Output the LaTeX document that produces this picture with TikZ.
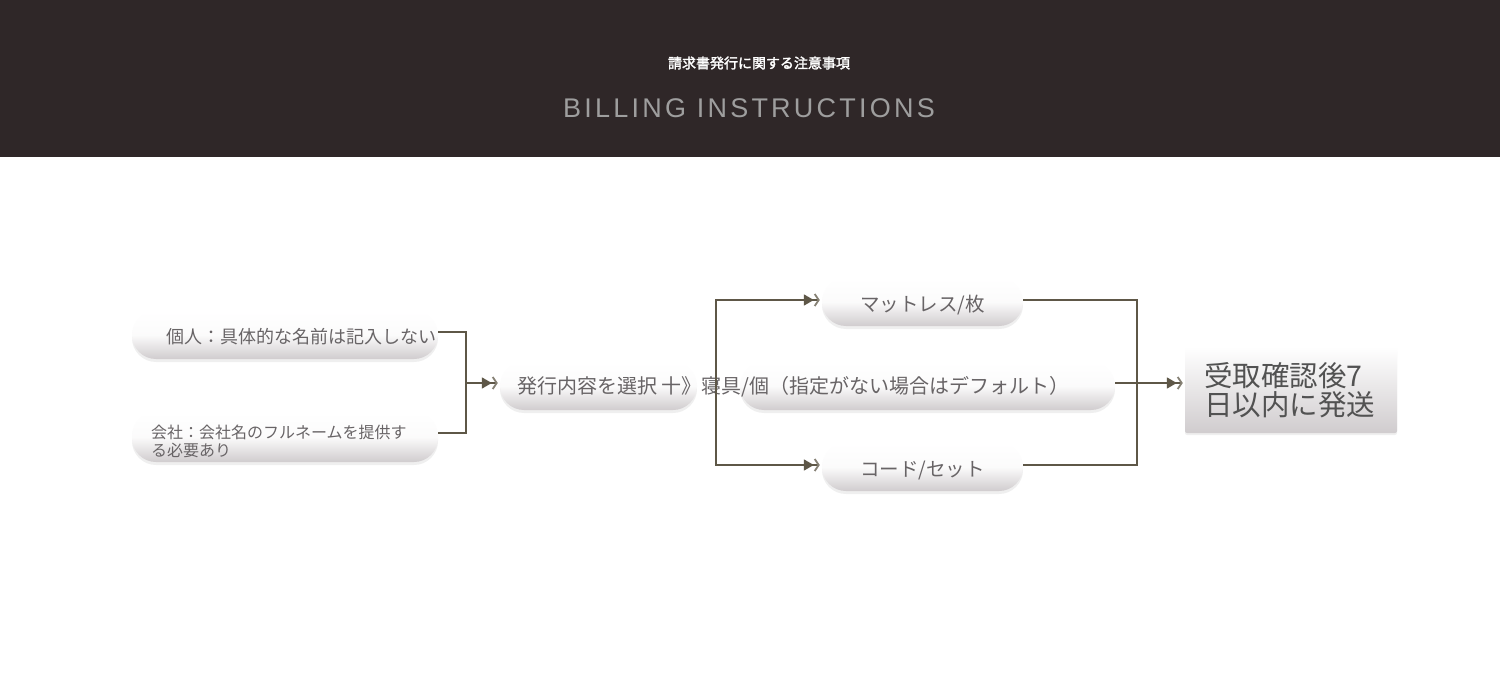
\documentclass[tikz,border=0pt]{standalone}
\usepackage{fontspec}
\usetikzlibrary{arrows.meta,shadows,calc}
\newfontfamily\cjk{Noto Sans CJK JP}
\newfontfamily\cjkb[FakeBold=2]{Noto Sans CJK JP}
\newfontfamily\latinhead[LetterSpace=12]{Liberation Sans}
\definecolor{band}{HTML}{2F2728}
\definecolor{lnk}{HTML}{5E5747}
\definecolor{txt}{HTML}{686466}
\definecolor{pillb}{HTML}{D0CCCE}
\definecolor{headgray}{HTML}{9E9E9E}
\tikzset{
  pill/.style={rectangle, rounded corners=24pt, minimum height=48pt,
    top color=white, bottom color=pillb, middle color=white!92!pillb,
    draw=none, inner ysep=0pt, text height=19pt, text depth=0pt,
    drop shadow={opacity=0.12, shadow xshift=0pt, shadow yshift=-3pt},
    text=txt, font=\cjk\fontsize{19.5}{22}\selectfont},
  box/.style={rectangle, rounded corners=2pt, top color=white, bottom color=pillb,
    draw=none, drop shadow={opacity=0.12, shadow xshift=0pt, shadow yshift=-2pt},
    text=black!68, font=\cjk\fontsize{28.5}{29}\selectfont},
  lbl/.style={text=txt, inner sep=0pt},
  lk/.style={draw=lnk, line width=1.6pt},
  arr/.style={lk, -{Triangle[length=10pt,width=11pt] Straight Barb[length=4pt,width=12pt,line width=1.8pt,color=lnk!75]}, shorten >=2pt},
}
\begin{document}
\begin{tikzpicture}[x=1pt,y=-1pt]
\useasboundingbox (0,0) rectangle (1500,682);
\fill[white] (0,0) rectangle (1500,682);
\fill[band] (0,0) rectangle (1500,157);
\node[text=white, font=\cjkb\fontsize{14}{16}\selectfont] (title) at (759,63) {請求書発行に関する注意事項};
\node[text=headgray, font=\latinhead\fontsize{27}{30}\selectfont] (sub) at (749,108) {BILLING INSTRUCTIONS};

% left column
\node[pill, minimum width=306pt, text width=302pt, inner xsep=2pt, align=right,
      font=\cjk\fontsize{18}{20}\selectfont, text height=17pt] (A) at (285,335) {個人：具体的な名前は記入しない};
\node[pill, minimum width=306pt, minimum height=50pt] (B) at (285,437) {};
\node[lbl, anchor=base west, align=left, font=\cjk\fontsize{16}{18}\selectfont] (Bt) at (151,456) {会社：会社名のフルネームを提供す\\る必要あり};

% middle
\node[pill, minimum width=197pt] (C) at (598.5,386) {};
\node[pill, minimum width=375pt] (D) at (927.5,386) {};
\node[lbl, font=\cjk\fontsize{20}{22}\selectfont, anchor=west] (Ct) at (517,387) {発行内容を選択 十》寝具/個（指定がない場合はデフォルト）};

\node[pill, minimum width=201pt] (E) at (922.5,302) {マットレス/枚};
\node[pill, minimum width=201pt] (F) at (922.5,467) {コード/セット};

\node[box, minimum width=212pt, minimum height=86pt, text width=174pt, inner xsep=19pt, align=left] (G) at (1291,390) {受取確認後7\\日以内に発送};

% connectors
\coordinate (J1) at (466,383);
\coordinate (J2) at (716,383);
\coordinate (J3) at (1137,383);
\draw[lk] (A.east |- 0,332) -| (J1);
\draw[lk] (B.east |- 0,433) -| (J1);
\draw[arr] (J1) -- (C.west |- J1);
\draw[arr] (J2) |- (E.west |- 0,300);
\draw[arr] (J2) |- (F.west |- 0,465);
\draw[lk] (E.east |- 0,300) -| (J3);
\draw[lk] (F.east |- 0,465) -| (J3);
\draw[arr] (D.east |- J1) -- (G.west |- J1);
\end{tikzpicture}
\end{document}
